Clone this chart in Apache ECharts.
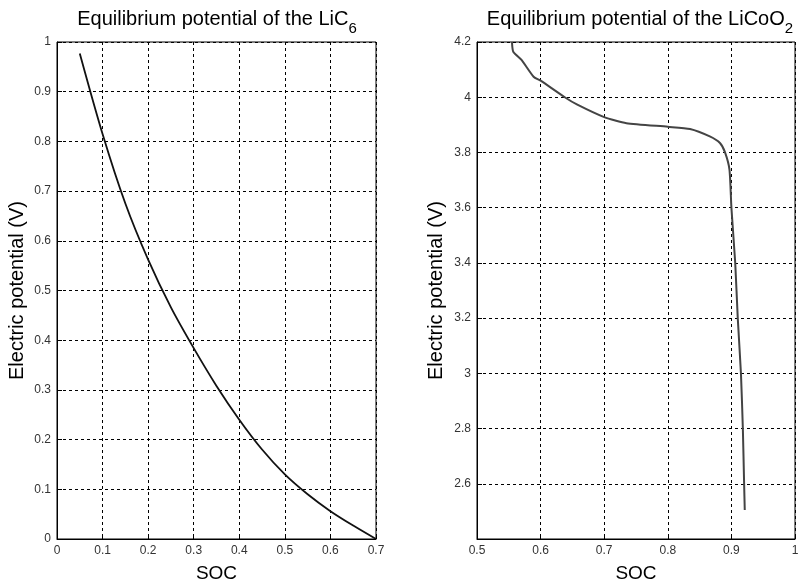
<!DOCTYPE html>
<html>
<head>
<meta charset="utf-8">
<script src="https://cdn.jsdelivr.net/npm/echarts@6/dist/echarts.min.js"></script>
<style>
  html, body { margin: 0; padding: 0; background: #fff; }
  #main { width: 801px; height: 584px; }
</style>
</head>
<body>
<div id="main"></div>
<script>
// LiC6 (negative electrode) equilibrium potential
const socLiC6 = [0.05, 0.1, 0.15, 0.2, 0.25, 0.3, 0.35, 0.4, 0.45, 0.5, 0.55, 0.6, 0.65, 0.7];
const vLiC6 = [0.977, 0.815, 0.675, 0.562, 0.466, 0.384, 0.308, 0.240, 0.180, 0.130, 0.090, 0.056, 0.027, 0.0];

// LiCoO2 (positive electrode) equilibrium potential
const socLiCoO2 = [0.555, 0.557, 0.570, 0.589, 0.6, 0.638, 0.657, 0.7, 0.735, 0.8, 0.835, 0.866, 0.882, 0.89, 0.897, 0.9, 0.906, 0.91, 0.915, 0.918, 0.92, 0.921];
const vLiCoO2 = [4.2, 4.165, 4.135, 4.074, 4.06, 4.0, 3.974, 3.928, 3.906, 3.893, 3.885, 3.858, 3.834, 3.8, 3.737, 3.6, 3.4, 3.2, 3.0, 2.8, 2.6, 2.505];

const font = 'Liberation Sans, Arial, sans-serif';

function pairs(xs, ys) {
    return xs.map((x, i) => [x, ys[i]]);
}

function titleRich() {
    return {
        a: { fontSize: 20, fontFamily: font, fontWeight: 'normal', color: '#000', lineHeight: 22, verticalAlign: 'top' },
        s: { fontSize: 15, fontFamily: font, fontWeight: 'normal', color: '#000', lineHeight: 15, padding: [12, 0, 0, 0], verticalAlign: 'top' }
    };
}

function xAxisOf(idx, min, max) {
    return {
        gridIndex: idx, type: 'value', min: min, max: max, interval: 0.1,
        name: 'SOC', nameLocation: 'middle', nameGap: 25,
        nameTextStyle: { fontSize: 19, fontFamily: font, color: '#000' },
        axisLine: { lineStyle: { color: '#000', width: 1 } },
        axisTick: { inside: true, length: 5, lineStyle: { color: '#000' } },
        axisLabel: { fontSize: 12, fontFamily: font, color: '#333', margin: 6 },
        splitLine: { show: true, lineStyle: { color: '#000', type: [3, 3], width: 1 } }
    };
}

function yAxisOf(idx, min, max, interval, showMin) {
    return {
        gridIndex: idx, type: 'value', min: min, max: max, interval: interval,
        name: 'Electric potential (V)', nameLocation: 'middle', nameGap: idx === 0 ? 30 : 31,
        nameTextStyle: { fontSize: 20, fontFamily: font, color: '#000' },
        axisLine: { lineStyle: { color: '#000', width: 1 } },
        axisTick: { inside: true, length: 5, lineStyle: { color: '#000' } },
        axisLabel: { fontSize: 12, fontFamily: font, color: '#333', margin: 6, showMinLabel: showMin },
        splitLine: { show: true, lineStyle: { color: '#000', type: [3, 3], width: 1 } }
    };
}

var myChart = echarts.init(document.getElementById('main'));

var option = {
    backgroundColor: '#fff',
    animation: false,
    title: [
        {
            text: '{a|Equilibrium potential of the LiC}{s|6}',
            left: 212, top: 4, textAlign: 'center',
            textStyle: { rich: titleRich() }
        },
        {
            text: '{a|Equilibrium potential of the LiCoO}{s|2}',
            left: 635, top: 4, textAlign: 'center',
            textStyle: { rich: titleRich() }
        }
    ],
    grid: [
        { left: 57, right: 425, top: 42, bottom: 45, outerBoundsMode: 'none', show: true, borderColor: '#000', borderWidth: 1 },
        { left: 477, right: 6, top: 42, bottom: 45, outerBoundsMode: 'none', show: true, borderColor: '#000', borderWidth: 1 }
    ],
    xAxis: [xAxisOf(0, 0, 0.7), xAxisOf(1, 0.5, 1)],
    yAxis: [yAxisOf(0, 0, 1, 0.1, true), yAxisOf(1, 2.4, 4.2, 0.2, false)],
    series: [
        {
            type: 'line', xAxisIndex: 0, yAxisIndex: 0,
            data: pairs(socLiC6, vLiC6),
            smooth: 0.3, showSymbol: false,
            lineStyle: { color: '#111', width: 1.8 }
        },
        {
            type: 'line', xAxisIndex: 1, yAxisIndex: 1,
            data: pairs(socLiCoO2, vLiCoO2),
            smooth: 0.2, showSymbol: false,
            lineStyle: { color: '#444', width: 2 }
        }
    ]
};

myChart.setOption(option);
</script>
</body>
</html>
